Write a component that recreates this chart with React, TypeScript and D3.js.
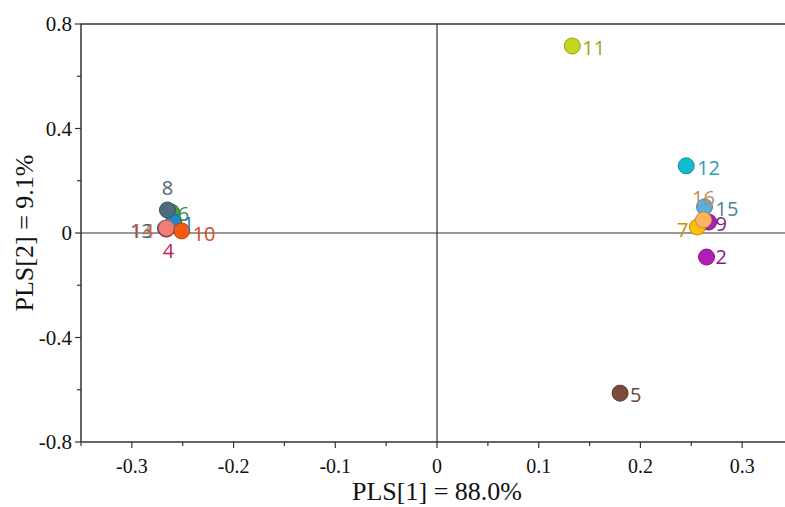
import React from "react";
import * as d3 from "d3";

const sampleIds = ["11", "12", "16", "15", "9", "7", "2", "5", "8", "6", "1", "13", "14", "4", "10"];
const pls1Values = [0.133, 0.245, 0.262, 0.263, 0.267, 0.256, 0.265, 0.180, -0.265, -0.261, -0.259, -0.267, -0.266, -0.266, -0.251];
const pls2Values = [0.716, 0.257, 0.050, 0.100, 0.042, 0.023, -0.092, -0.613, 0.088, 0.080, 0.042, 0.018, 0.019, 0.015, 0.008];
const xTicks = [-0.3, -0.2, -0.1, 0, 0.1, 0.2, 0.3];
const yTicks = [-0.8, -0.4, 0, 0.4, 0.8];
const xMinorTicks = [-0.35, -0.25, -0.15, -0.05, 0.05, 0.15, 0.25, 0.35];
const yMinorTicks = [-0.6, -0.2, 0.2, 0.6];

const fills: Record<string, string> = {
  "11": "#C6D51E", "12": "#10BCD2", "16": "#FFB45E", "15": "#5AAFDA", "9": "#A824A8",
  "7": "#FDBE0C", "2": "#B01EB4", "5": "#7B4A3B", "8": "#4D6B7C", "6": "#45A040",
  "1": "#1F88CF", "13": "#207060", "14": "#F07E74", "4": "#C61C5C", "10": "#F25A12",
};
const textColors: Record<string, string> = {
  "11": "#9AAA12", "12": "#2A9DB0", "16": "#C98A50", "15": "#4A84A0", "9": "#8C1A8C",
  "7": "#C48C00", "2": "#8C1A8C", "5": "#6B4537", "8": "#4D6472", "6": "#3A8E2E",
  "1": "#1F78B4", "13": "#1E6E5E", "14": "#D9665C", "4": "#C41A5A", "10": "#D84A14",
};
// label placement: [dx, dy, anchor]
const labelPos: Record<string, [number, number, string]> = {
  "11": [10, 2, "start"], "12": [11, 2, "start"], "16": [0, -22, "middle"], "15": [11, 2, "start"],
  "9": [7, 2, "start"], "7": [-9, 3, "end"], "2": [9, 0, "start"], "5": [10, 2, "start"],
  "8": [0, -22, "middle"], "6": [12, 2, "middle"], "1": [15, 2, "middle"], "13": [-24, 3, "middle"],
  "14": [-24, 3, "middle"], "4": [2, 22, "middle"], "10": [11, 3, "start"],
};
const drawOrder = ["11", "12", "5", "2", "15", "9", "7", "16", "6", "1", "8", "13", "4", "14", "10"];

const fmt = (t: number) => (t === 0 ? "0" : t.toFixed(1));

export default function App() {
  const W = 785, H = 507;
  const x = d3.scaleLinear().domain([-0.35, 0.35]).range([81, 793]);
  const y = d3.scaleLinear().domain([-0.8, 0.8]).range([442, 24]);
  const serif = "Liberation Serif, Times New Roman, serif";
  const sans = "Open Sans, Noto Sans, sans-serif";
  const axisColor = "#333";
  const idx = (id: string) => sampleIds.indexOf(id);

  return (
    <svg width={W} height={H} style={{ position: "absolute", left: 0, top: 0 }}>
      <rect width={W} height={H} fill="#fff" />
      {/* frame */}
      <line x1={x(-0.35)} x2={W} y1={y(0.8)} y2={y(0.8)} stroke={axisColor} strokeWidth={1.5} />
      <line x1={x(-0.35)} x2={W} y1={y(-0.8)} y2={y(-0.8)} stroke={axisColor} strokeWidth={1.5} />
      <line x1={x(-0.35)} x2={x(-0.35)} y1={y(0.8)} y2={y(-0.8)} stroke={axisColor} strokeWidth={1.5} />
      {/* zero lines */}
      <line x1={x(-0.35)} x2={W} y1={y(0)} y2={y(0)} stroke={axisColor} strokeWidth={1.2} />
      <line x1={x(0)} x2={x(0)} y1={y(0.8)} y2={y(-0.8)} stroke={axisColor} strokeWidth={1.2} />
      {/* y ticks */}
      {yTicks.map((t) => (
        <g key={"y" + t}>
          <line x1={x(-0.35) - 6} x2={x(-0.35)} y1={y(t)} y2={y(t)} stroke={axisColor} strokeWidth={1.2} />
          <text x={x(-0.35) - 9} y={y(t)} dy="0.35em" textAnchor="end" fontFamily={serif} fontSize={21} fill="#111">
            {fmt(t)}
          </text>
        </g>
      ))}
      {yMinorTicks.map((t) => (
        <line key={"ym" + t} x1={x(-0.35) - 4} x2={x(-0.35)} y1={y(t)} y2={y(t)} stroke={axisColor} strokeWidth={1.2} />
      ))}
      {/* x ticks */}
      {xTicks.map((t) => (
        <g key={"x" + t}>
          <line x1={x(t)} x2={x(t)} y1={y(-0.8)} y2={y(-0.8) + 6} stroke={axisColor} strokeWidth={1.2} />
          <text x={x(t)} y={466} dy="0.35em" textAnchor="middle" fontFamily={serif} fontSize={20} fill="#111">
            {fmt(t)}
          </text>
        </g>
      ))}
      {xMinorTicks.map((t) => (
        <line key={"xm" + t} x1={x(t)} x2={x(t)} y1={y(-0.8)} y2={y(-0.8) + 4} stroke={axisColor} strokeWidth={1.2} />
      ))}
      {/* axis titles */}
      <text x={x(0)} y={500} textAnchor="middle" fontFamily={serif} fontSize={26} fill="#111">PLS[1] = 88.0%</text>
      <text transform={`translate(33,${y(0)}) rotate(-90)`} textAnchor="middle" fontFamily={serif} fontSize={26} fill="#111">PLS[2] = 9.1%</text>
      {/* points */}
      {drawOrder.map((id) => {
        const i = idx(id);
        const c = fills[id];
        return (
          <circle key={"c" + id} cx={x(pls1Values[i])} cy={y(pls2Values[i])} r={8}
            fill={c} stroke={d3.color(c)!.darker(0.8).formatHex()} strokeWidth={1} />
        );
      })}
      {/* labels */}
      {drawOrder.map((id) => {
        const i = idx(id);
        const [dx, dy, anchor] = labelPos[id];
        return (
          <text key={"t" + id} x={x(pls1Values[i]) + dx} y={y(pls2Values[i]) + dy} dy="0.35em"
            textAnchor={anchor as any} fontFamily={sans} fontSize={20} fill={textColors[id]}>
            {id}
          </text>
        );
      })}
    </svg>
  );
}
